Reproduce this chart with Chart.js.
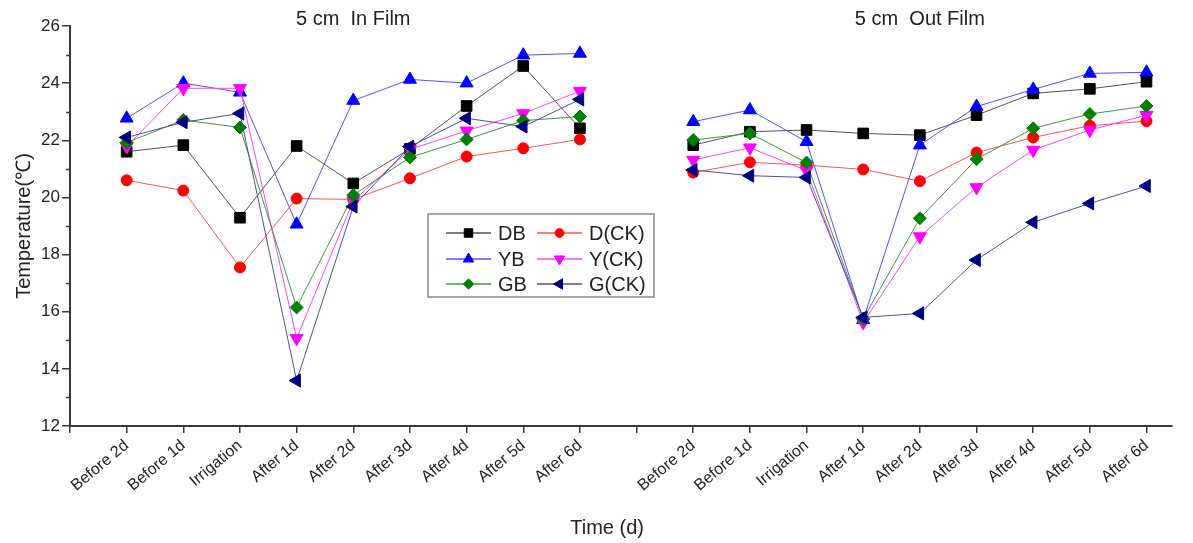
<!DOCTYPE html>
<html><head><meta charset="utf-8">
<script src="https://cdn.jsdelivr.net/npm/chart.js@4/dist/chart.umd.min.js"></script>
<style>html,body{margin:0;padding:0;background:#fff;}#wrap{width:1193px;height:543px;}</style>
</head><body><div id="wrap"><canvas id="c" width="1193" height="543"></canvas></div>
<script>
// ---- data ----
const inFilmCats = ['Before 2d','Before 1d','Irrigation','After 1d','After 2d','After 3d','After 4d','After 5d','After 6d'];
const outFilmCats = ['Before 2d','Before 1d','Irrigation','After 1d','After 2d','After 3d','After 4d','After 5d','After 6d'];
const panelTitles = ['5 cm  In Film', '5 cm  Out Film'];
const seriesNames = ['DB','D(CK)','YB','Y(CK)','GB','G(CK)'];
const yTickValues = [12,14,16,18,20,22,24,26];

const DB_in   = [21.60,21.83,19.29,21.80,20.49,21.70,23.20,24.60,22.42];
const DB_out  = [21.83,22.30,22.36,22.24,22.18,22.88,23.64,23.80,24.05];
const DCK_in  = [20.60,20.24,17.55,19.96,19.93,20.67,21.43,21.72,22.03];
const DCK_out = [20.87,21.23,21.13,20.98,20.57,21.57,22.10,22.51,22.67];
const YB_in   = [22.77,24.00,23.68,19.06,23.39,24.13,24.00,24.98,25.04];
const YB_out  = [22.65,23.06,21.95,15.72,21.83,23.18,23.78,24.34,24.38];
const YCK_in  = [21.78,23.82,23.82,15.07,19.88,21.68,22.33,22.94,23.72];
const YCK_out = [21.31,21.74,20.94,15.62,18.63,20.35,21.66,22.36,22.88];
const GB_in   = [21.92,22.71,22.45,16.15,20.08,21.40,22.03,22.69,22.83];
const GB_out  = [22.01,22.24,21.22,15.75,19.27,21.34,22.42,22.92,23.20];
const GCK_in  = [22.10,22.63,22.94,13.59,19.68,21.78,22.77,22.48,23.43];
const GCK_out = [20.96,20.76,20.70,15.80,15.94,17.81,19.13,19.79,20.40];

// ---- build ----
const xLabels = [''].concat(inFilmCats, [''], outFilmCats);
function toPoints(a, b) {
  const pts = a.map((v, i) => ({x: i + 1, y: v}));
  pts.push({x: a.length + 1, y: null});
  b.forEach((v, i) => pts.push({x: a.length + 2 + i, y: v}));
  return pts;
}
const seriesData = [[DB_in,DB_out],[DCK_in,DCK_out],[YB_in,YB_out],[YCK_in,YCK_out],[GB_in,GB_out],[GCK_in,GCK_out]];
const styles = [
  {color:'#000000', line:'#555555', pointStyle:'rect', radius:7.5, rotation:0},
  {color:'#ff0000', line:'#ff5050', pointStyle:'circle', radius:5.5, rotation:0},
  {color:'#0000ff', line:'#5050ff', pointStyle:'triangle', radius:7.5, rotation:0},
  {color:'#ff00ff', line:'#ff40ff', pointStyle:'triangle', radius:7.5, rotation:180},
  {color:'#008000', line:'#3a9a3a', pointStyle:'rectRot', radius:6.5, rotation:0},
  {color:'#000080', line:'#50509a', pointStyle:'triangle', radius:7.5, rotation:270}
];
const datasets = seriesNames.map((n, i) => ({
  label: n,
  data: toPoints(seriesData[i][0], seriesData[i][1]),
  borderColor: styles[i].line,
  backgroundColor: styles[i].color,
  pointBackgroundColor: styles[i].color,
  pointBorderColor: styles[i].color,
  pointBorderWidth: 1,
  pointStyle: styles[i].pointStyle,
  pointRadius: styles[i].radius,
  pointRotation: styles[i].rotation,
  borderWidth: 1,
  tension: 0,
  spanGaps: false,
  order: 6 - i
}));

const FONT = '"Liberation Sans", Arial, sans-serif';
const AX = '#3a3a3a';

const extras = {
  id: 'extras',
  afterDraw(chart) {
    const ctx = chart.ctx, ca = chart.chartArea;
    const xs = chart.scales.x, ys = chart.scales.y;
    ctx.save();
    // minor y ticks
    ctx.strokeStyle = AX; ctx.lineWidth = 1.5;
    for (let v = 13; v <= 25; v += 2) {
      const y = Math.round(ys.getPixelForValue(v)) + 0.5;
      ctx.beginPath(); ctx.moveTo(ca.left - 4, y); ctx.lineTo(ca.left, y); ctx.stroke();
    }
    // panel titles
    ctx.fillStyle = '#222';
    ctx.font = '20px ' + FONT;
    ctx.textAlign = 'center'; ctx.textBaseline = 'middle';
    ctx.fillText(panelTitles[0], xs.getPixelForValue(5), 19);
    ctx.fillText(panelTitles[1], xs.getPixelForValue(15), 19);
    // legend
    const bx = 428, by = 214, bw = 226, bh = 83;
    ctx.fillStyle = '#fff';
    ctx.fillRect(bx, by, bw, bh);
    ctx.strokeStyle = '#8a8a8a'; ctx.lineWidth = 1.5;
    ctx.strokeRect(bx, by, bw, bh);
    const rowsY = [233, 259, 284];
    const colX = [446, 537];
    ctx.font = '20px ' + FONT;
    ctx.textAlign = 'left';
    chart.data.datasets.forEach((ds, i) => {
      const col = i % 2, row = Math.floor(i / 2);
      const x0 = colX[col], y0 = rowsY[row];
      ctx.strokeStyle = ds.borderColor; ctx.lineWidth = 1.5;
      ctx.beginPath(); ctx.moveTo(x0, y0); ctx.lineTo(x0 + 45, y0); ctx.stroke();
      ctx.fillStyle = ds.pointBackgroundColor; ctx.strokeStyle = ds.pointBorderColor;
      ctx.lineWidth = 1;
      Chart.helpers.drawPoint(ctx, {pointStyle: ds.pointStyle, radius: ds.pointRadius * 0.8, rotation: ds.pointRotation, borderWidth: 1}, x0 + 22.5, y0);
      ctx.fillStyle = '#222';
      ctx.fillText(ds.label, x0 + 52, y0 + 1);
    });
    ctx.restore();
  }
};

new Chart(document.getElementById('c'), {
  type: 'line',
  data: { datasets },
  plugins: [extras],
  options: {
    responsive: false,
    animation: false,
    devicePixelRatio: 1,
    events: [],
    layout: { padding: { left: 0, right: 21, top: 26, bottom: 0 } },
    plugins: { legend: { display: false }, tooltip: { enabled: false } },
    scales: {
      x: {
        type: 'linear',
        min: 0, max: 19.45,
        afterFit(s) { s.height = 117; },
        border: { display: true, color: AX, width: 2 },
        grid: { display: true, drawOnChartArea: false, drawTicks: true, tickLength: 7, color: AX, lineWidth: 1.5 },
        ticks: {
          stepSize: 1, autoSkip: false, includeBounds: false,
          minRotation: 40, maxRotation: 40, padding: 3,
          color: '#222', font: { family: FONT, size: 16 },
          callback: (v) => (Number.isInteger(v) && xLabels[v] !== undefined) ? xLabels[v] : ''
        },
        title: { display: true, text: 'Time (d)     ', color: '#222', font: { family: FONT, size: 20, lineHeight: 1.2 }, padding: { top: 0, bottom: 3 } }
      },
      y: {
        min: 12, max: 26,
        afterFit(s) { s.width = 70; },
        afterBuildTicks(s) { s.ticks = yTickValues.map(v => ({ value: v })); },
        border: { display: true, color: AX, width: 2 },
        grid: { display: true, drawOnChartArea: false, drawTicks: true, tickLength: 8, color: AX, lineWidth: 1.5 },
        ticks: { color: '#222', padding: 2, font: { family: FONT, size: 17 } },
        title: { display: true, text: 'Temperature(℃)', color: '#222', font: { family: FONT, size: 20, lineHeight: 1.2 }, padding: { top: 12, bottom: 0 } }
      }
    }
  }
});
</script></body></html>
